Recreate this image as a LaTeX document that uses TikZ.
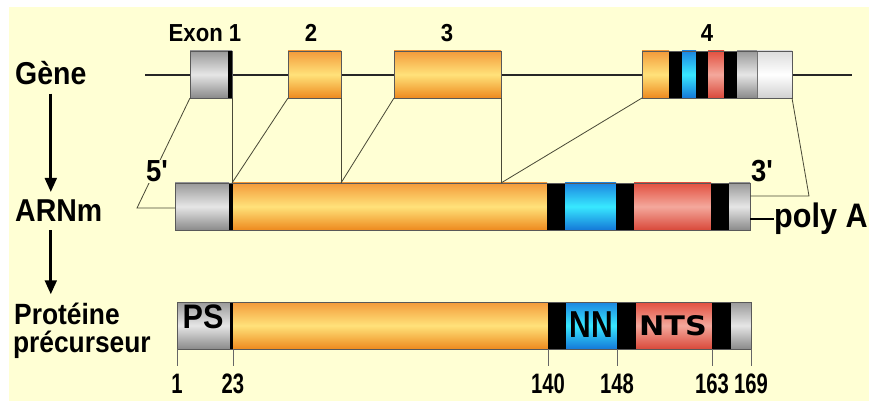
\documentclass[tikz,border=0pt]{standalone}
\usepackage{fontspec}
\setmainfont{Liberation Sans}[FakeStretch=0.9]
\newfontfamily\primefont{Liberation Sans}[FakeStretch=0.9, Ligatures=TeXOff]
\newfontfamily\numfont{Liberation Sans}[FakeStretch=0.72]
\newfontfamily\nnfont{Liberation Sans}[FakeStretch=0.8]
\newfontfamily\ntsfont{DejaVu Sans}[FakeStretch=1.12]
\usetikzlibrary{arrows.meta}

\newlength\px
\setlength\px{0.03cm}

\definecolor{bgyellow}{HTML}{FFFFD4}
\definecolor{linkgray}{HTML}{4A4A38}
\definecolor{grayTop}{HTML}{999999}
\definecolor{grayMid}{HTML}{E6E6E6}
\definecolor{grayBot}{HTML}{8A8A8A}
\definecolor{orangeTop}{HTML}{F39A3A}
\definecolor{orangeMid}{HTML}{FFE27A}
\definecolor{orangeBot}{HTML}{EE8A1E}
\definecolor{blueTop}{HTML}{1C86E0}
\definecolor{blueMid}{HTML}{38E8FF}
\definecolor{blueBot}{HTML}{1478D8}
\definecolor{redTop}{HTML}{E2503F}
\definecolor{redMid}{HTML}{F4A89C}
\definecolor{redBot}{HTML}{D9493A}
\definecolor{whiteTop}{HTML}{DCDCDC}
\definecolor{whiteBot}{HTML}{D0D0D0}

\tikzset{
  seg/.style={anchor=north west, inner sep=0pt, outer sep=0pt, minimum height=47\px},
  exon/.style={seg, draw=black!65, line width=0.6pt},
  blk/.style={seg, fill=black},
  grayshade/.style={top color=grayTop, bottom color=grayBot, middle color=grayMid},
  orangeshade/.style={top color=orangeTop, bottom color=orangeBot, middle color=orangeMid},
  blueshade/.style={top color=blueTop, bottom color=blueBot, middle color=blueMid},
  redshade/.style={top color=redTop, bottom color=redBot, middle color=redMid},
  whiteshade/.style={top color=whiteTop, bottom color=whiteBot, middle color=white},
  geneline/.style={line width=2.4pt, black!85},
  link/.style={draw=linkgray, line width=0.7pt},
  flow/.style={line width=2.4pt, -{Triangle[length=12pt,width=10pt]}},
  biglbl/.style={anchor=base west, inner sep=3pt, outer sep=4pt,
    font=\bfseries\fontsize{27pt}{27pt}\selectfont},
  protlbl/.style={anchor=base west, inner sep=0pt, outer sep=0pt,
    font=\bfseries\fontsize{25pt}{25pt}\selectfont},
  exlbl/.style={anchor=base, inner sep=0pt, font=\bfseries\fontsize{21pt}{21pt}\selectfont},
  prime/.style={anchor=base, inner sep=1pt, fill=bgyellow,
    font=\primefont\bfseries\fontsize{26pt}{26pt}\selectfont},
  polylbl/.style={anchor=base west, inner sep=0pt, font=\bfseries\fontsize{29pt}{29pt}\selectfont},
  num/.style={anchor=base, inner sep=6pt, font=\numfont\bfseries\fontsize{24pt}{24pt}\selectfont},
  tick/.style={draw=black!60, line width=0.8pt}
}

\begin{document}
\begin{tikzpicture}[x=0.03cm, y=-0.03cm]
\useasboundingbox (0,0) rectangle (869,401);
\fill[bgyellow] (9,7) rectangle (869,401);

% gene
\coordinate (g0) at (145,75);
\coordinate (g1) at (852,75);
\draw[geneline] (g0) -- (g1);

\node[exon, grayshade, minimum width=42\px] (ex1) at (190,51) {};
\node[blk, minimum width=4\px] (ex1b) at (228,51) {};
\node[exon, orangeshade, minimum width=53\px] (ex2) at (288,51) {};
\node[exon, orangeshade, minimum width=107\px] (ex3) at (394,51) {};

\node[seg, orangeshade, minimum width=27\px] (e4a) at (642,51) {};
\node[blk, minimum width=13\px] (e4b) at (669,51) {};
\node[seg, blueshade, minimum width=14\px] (e4c) at (682,51) {};
\node[blk, minimum width=12\px] (e4d) at (696,51) {};
\node[seg, redshade, minimum width=16\px] (e4e) at (708,51) {};
\node[blk, minimum width=13\px] (e4f) at (724,51) {};
\node[seg, grayshade, minimum width=20\px] (e4g) at (737,51) {};
\node[seg, whiteshade, draw=black!55, line width=0.6pt, minimum width=35\px] (e4h) at (757,51) {};
\node[exon, minimum width=150\px] (ex4) at (642,51) {};

\node[exlbl] (t1) at (205,42) {Exon 1};
\node[exlbl] (t2) at (311,42) {2};
\node[exlbl] (t3) at (447,42) {3};
\node[exlbl] (t4) at (707,42) {4};

% ARNm
\node[seg, grayshade, minimum width=54\px] (m1) at (175,183) {};
\node[blk, minimum width=4\px] (m2) at (229,183) {};
\node[seg, orangeshade, minimum width=314\px] (m3) at (233,183) {};
\node[blk, minimum width=18\px] (m4) at (547,183) {};
\node[seg, blueshade, minimum width=51\px] (m5) at (565,183) {};
\node[blk, minimum width=18\px] (m6) at (616,183) {};
\node[seg, redshade, minimum width=77\px] (m7) at (634,183) {};
\node[blk, minimum width=18\px] (m8) at (711,183) {};
\node[seg, grayshade, minimum width=21\px] (m9) at (729,183) {};
\node[exon, minimum width=575\px] (mrna) at (175,183) {};

% splicing
\coordinate (tail5) at (137,208);
\coordinate (tail3) at (809,196);
\draw[link] (ex1.south west) -- (tail5) -- (tail5 -| mrna.west);
\node[prime] (five) at (157,182) {5'};
\draw[link] (ex1.south east) -- (ex1.south east |- mrna.north);
\draw[link] (ex2.south west) -- (ex1.south east |- mrna.north);
\draw[link] (ex2.south east) -- (ex2.south east |- mrna.north);
\draw[link] (ex3.south west) -- (ex2.south east |- mrna.north);
\draw[link] (ex3.south east) -- (ex3.south east |- mrna.north);
\draw[link] (ex4.south west) -- (ex3.south east |- mrna.north);
\draw[link] (ex4.south east) -- (tail3) -- (tail3 -| mrna.east);
\node[prime, fill=none] (three) at (762,182) {3'};
\node[polylbl] (polyA) at (774,228) {poly A};
\draw[line width=1.5pt] (polyA.west -| mrna.east) -- (polyA.west);

% proteine
\node[seg, grayshade, minimum width=54\px] (p1) at (177,302) {};
\node[blk, minimum width=3\px] (p2) at (230,302) {};
\node[seg, orangeshade, minimum width=315\px] (p3) at (233,302) {};
\node[blk, minimum width=18\px] (p4) at (548,302) {};
\node[seg, blueshade, minimum width=51\px] (p5) at (566,302) {};
\node[blk, minimum width=19\px] (p6) at (617,302) {};
\node[seg, redshade, minimum width=76\px] (p7) at (636,302) {};
\node[blk, minimum width=19\px] (p8) at (712,302) {};
\node[seg, grayshade, minimum width=20\px] (p9) at (731,302) {};
\node[exon, minimum width=574\px] (prot) at (177,302) {};

\node[anchor=base, inner sep=0pt, font=\bfseries\fontsize{29pt}{29pt}\selectfont] (ps) at (203,328) {PS};
\node[anchor=base, inner sep=0pt, font=\nnfont\bfseries\fontsize{32pt}{32pt}\selectfont] (nn) at (591,337) {NN};
\node[anchor=base, inner sep=0pt, font=\ntsfont\bfseries\fontsize{23pt}{23pt}\selectfont] (nts) at (673,335) {NTS};

% positions
\node[num] (n1) at (p1.south west |- 0,393) {1};
\node[num] (n23) at (p3.south west |- 0,393) {23};
\node[num] (n140) at (p4.south west |- 0,393) {140};
\node[num] (n148) at (p6.south west |- 0,393) {148};
\node[num] (n163) at (p8.south west |- 0,393) {163};
\node[num] (n169) at (prot.south east |- 0,393) {169};
\draw[tick] (p1.south west) -- (n1.north);
\draw[tick] (p3.south west) -- (n23.north);
\draw[tick] (p4.south west) -- (n140.north);
\draw[tick] (p6.south west) -- (n148.north);
\draw[tick] (p8.south west) -- (n163.north);
\draw[tick] (prot.south east) -- (n169.north);

% left column
\node[biglbl] (gene) at (7,85) {Gène};
\node[biglbl] (arnm) at (7,222) {ARNm};
\node[protlbl, outer sep=7pt] (prot1) at (6,324) {Protéine};
\node[protlbl] (prot2) at (13,352) {précurseur};
\draw[flow] (gene.south) -- (gene.south |- arnm.north);
\draw[flow] (gene.south |- arnm.south) -- (gene.south |- prot1.north);
\end{tikzpicture}
\end{document}
